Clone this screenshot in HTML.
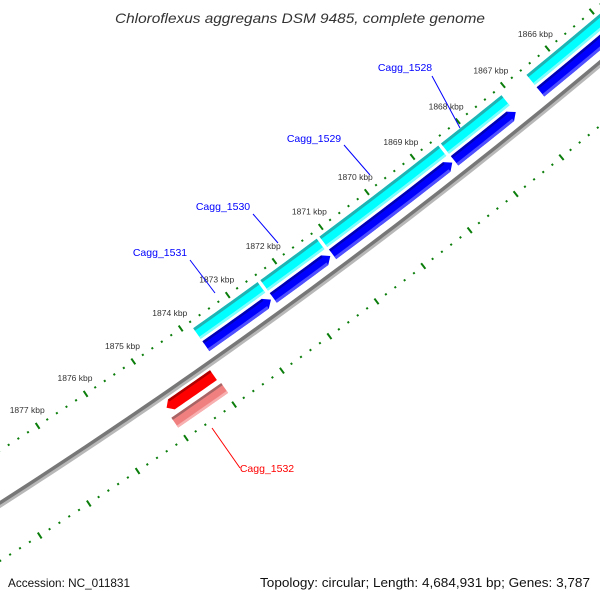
<!DOCTYPE html>
<html><head><meta charset="utf-8"><style>
html,body{margin:0;padding:0;background:#fff;}
svg{display:block;font-family:"Liberation Sans",sans-serif;}
</style></head><body>
<svg id="map" width="600" height="600" viewBox="0 0 600 600" xmlns="http://www.w3.org/2000/svg">
<rect x="0" y="0" width="600" height="600" fill="#fff"/>
<g id="layer"></g>
<text x="115" y="23" textLength="370" lengthAdjust="spacingAndGlyphs" font-size="14" font-style="italic" fill="#333">Chloroflexus aggregans DSM 9485, complete genome</text>
<text x="8" y="587" textLength="122" lengthAdjust="spacingAndGlyphs" font-size="12" fill="#111">Accession: NC_011831</text>
<text x="260" y="587" textLength="330" lengthAdjust="spacingAndGlyphs" font-size="12.5" fill="#111">Topology: circular; Length: 4,684,931 bp; Genes: 3,787</text>
</svg>
<script>
var tickKbp = [1866,1867,1868,1869,1870,1871,1872,1873,1874,1875,1876,1877];
var tickLabels = ["1866 kbp","1867 kbp","1868 kbp","1869 kbp","1870 kbp","1871 kbp","1872 kbp","1873 kbp","1874 kbp","1875 kbp","1876 kbp","1877 kbp"];
var fwdNames = ["Cagg_1531","Cagg_1530","Cagg_1529","Cagg_1528","next-gene"];
var fwdStart = [1873.85,1872.42,1871.15,1868.5,1866.6];
var fwdEnd = [1872.42,1871.15,1868.5,1867.1,1863.5];
var revNames = ["Cagg_1532"];
var revStart = [1874.0];
var revEnd = [1874.98];

var CX=-3186, CY=-4463, RB=5900;
var NS="http://www.w3.org/2000/svg";
var layer=document.getElementById('layer');
function ang(k){return (56.6+(k-1877)*0.5645)*Math.PI/180;}
function pt(r,k){var a=ang(k);return [CX+r*Math.cos(a),CY+r*Math.sin(a)];}
function mk(tag,attrs){var e=document.createElementNS(NS,tag);for(var k in attrs)e.setAttribute(k,attrs[k]);layer.appendChild(e);return e;}
function bandPts(r1,r2,k1,k2){
  var p=[],n=12,i;
  for(i=0;i<=n;i++){p.push(pt(r1,k1+(k2-k1)*i/n));}
  for(i=n;i>=0;i--){p.push(pt(r2,k1+(k2-k1)*i/n));}
  return p;
}
function ps(p){return p.map(function(q){return q[0].toFixed(2)+','+q[1].toFixed(2);}).join(' ');}
function band(r1,r2,k1,k2,fill,name){
  var e=mk('polygon',{points:ps(bandPts(r1,r2,k1,k2)),fill:fill});
  
  
  return e;
}

var bb=[];for(var k=1881;k>=1862;k-=0.25)bb.push(pt(RB,k));
var sh=[];for(var k2=1881;k2>=1862;k2-=0.25)sh.push(pt(RB+3,k2));
var e1=mk('polyline',{points:ps(sh),fill:'none',stroke:'#b8b8b8','stroke-width':3});


var e2=mk('polyline',{points:ps(bb),fill:'none',stroke:'#777','stroke-width':3.5});



function ticks(r,ring){
  for(var t=18800;t>=18620;t-=2){
    var kk=t/10;
    var major=(t%10===0);
    var el;
    if(major){
      var a=pt(r-3.5,kk),b=pt(r+3.5,kk);
      el=mk('line',{x1:a[0],y1:a[1],x2:b[0],y2:b[1],stroke:'#0a7d0a','stroke-width':2});
      
    } else {
      var a2=pt(r-1,kk),b2=pt(r+1,kk);
      el=mk('line',{x1:a2[0],y1:a2[1],x2:b2[0],y2:b2[1],stroke:'#0a7d0a','stroke-width':2});
      
    }
    
  }
}
ticks(5856,'outer');
ticks(5949,'inner');
for(var i=0;i<tickKbp.length;i++){
  var p=pt(5856-19,tickKbp[i]);
  var tx=mk('text',{x:p[0].toFixed(1),y:(p[1]+3).toFixed(1),'text-anchor':'middle','font-size':'8.5',fill:'#333'});
  tx.textContent=tickLabels[i];
  
  
}

for(var g=0;g<fwdStart.length;g++){
  var s=fwdStart[g]-0.03, en=fwdEnd[g]+0.03;
  band(5863,5876,s,en,'#00ffff','gene-'+fwdNames[g]);
  band(5863,5866,s,en,'#1fb3b3','gene-edge');
  band(5873.5,5876,s,en,'#80ffff','gene-highlight');
  var bs=fwdStart[g]-0.03, be=fwdEnd[g]+0.14;
  var p1=bandPts(5879,5891,bs,be);
  var tip=pt(5885,be-0.12);
  var poly=p1.slice(0,13).concat([tip]).concat(p1.slice(13));
  var ar=mk('polygon',{points:ps(poly),fill:'#0000ff'});
  
  
  band(5879,5881.5,bs,be,'#0000b4','cds-edge');
  band(5888,5891,bs,be,'#5050ff','cds-highlight');
}
for(var g2=0;g2<revStart.length;g2++){
  var rs=revStart[g2], re=revEnd[g2];
  var q=bandPts(5907,5919,rs,re-0.1);
  var rtip=pt(5913,re);
  var rp=q.slice(0,13).concat([rtip]).concat(q.slice(13));
  var rr=mk('polygon',{points:ps(rp),fill:'#ff0000'});
  
  
  band(5907,5909.5,rs,re-0.1,'#b00000','cds-edge');
  band(5924,5936,rs-0.03,re+0.03,'#f08080','gene-'+revNames[g2]);
  band(5924,5926.5,rs-0.03,re+0.03,'#a86464','gene-edge');
  band(5933.5,5936,rs-0.03,re+0.03,'#f8b0b0','gene-highlight');
}

var labels=[
 {t:'Cagg_1531',x:160,y:256,l:[190,260,215,293],c:'#0000ff'},
 {t:'Cagg_1530',x:223,y:210,l:[253,214,278,243],c:'#0000ff'},
 {t:'Cagg_1529',x:314,y:142,l:[344,145,370,175],c:'#0000ff'},
 {t:'Cagg_1528',x:405,y:71,l:[432,76,460,128],c:'#0000ff'},
 {t:'Cagg_1532',x:267,y:472,l:[240,468,212,428],c:'#ff0000'}
];
labels.forEach(function(L){
  var ln=mk('line',{x1:L.l[0],y1:L.l[1],x2:L.l[2],y2:L.l[3],stroke:L.c,'stroke-width':1});
  
  
  var t=mk('text',{x:L.x,y:L.y,'text-anchor':'middle','font-size':'10.5',fill:L.c});
  t.textContent=L.t;
  
  
});
</script>
</body></html>
